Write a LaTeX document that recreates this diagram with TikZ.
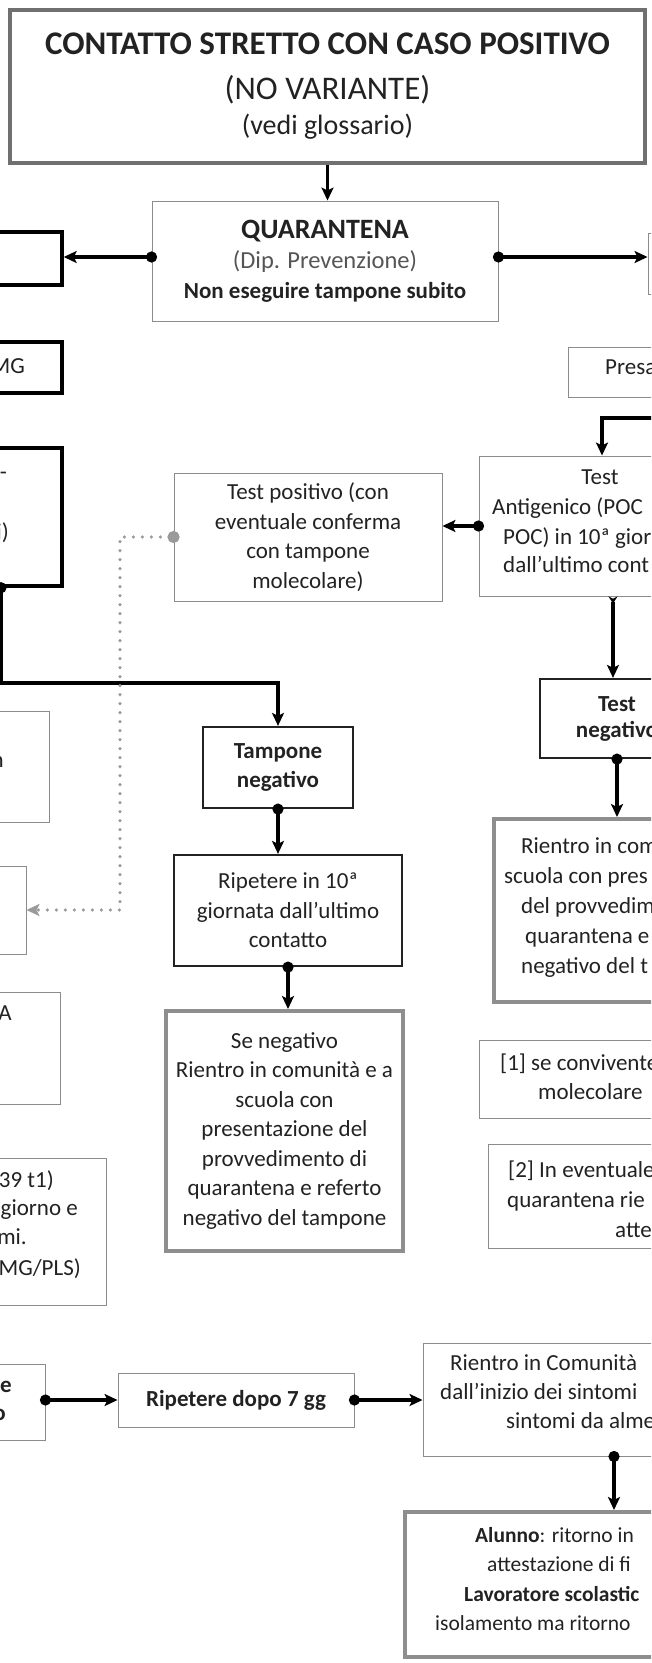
\documentclass[tikz,border=0pt]{standalone}
\usepackage{fontspec}
\setmainfont{Carlito}
\usetikzlibrary{arrows.meta,positioning}

\definecolor{inkc}{HTML}{222222}
\definecolor{softc}{HTML}{555555}
\definecolor{thinc}{HTML}{8C8C8C}
\definecolor{thickc}{HTML}{8E8E8E}
\definecolor{framec}{HTML}{707070}
\definecolor{dotc}{HTML}{9A9A9A}

\begin{document}
\begin{tikzpicture}[x=1pt,y=-1pt,
    every node/.style={text=inkc,font=\fontsize{23}{29.5}\selectfont},
    sz/.style 2 args={minimum width=#1pt,minimum height=#2pt},
    box/.style={draw=thinc,line width=0.9pt,inner sep=0pt,align=center},
    darkbox/.style={box,draw=inkc,line width=2.2pt},
    blackbox/.style={box,draw=black,line width=3.4pt},
    graybox/.style={box,draw=thickc,line width=4pt},
    frag/.style={inner sep=0pt,anchor=mid west},
    fragr/.style={inner sep=0pt,anchor=mid east},
    arrowline/.style={line width=3.2pt,-{Stealth[length=13pt,width=12pt,inset=3pt]}},
    link/.style={arrowline,{Circle[length=11pt]}-{Stealth[length=13pt,width=12pt,inset=3pt]},shorten <=-5.5pt},
    dotarrow/.style={dotc,line width=3.6pt,line cap=round,dash pattern=on 0pt off 9pt,
      {Circle[length=12pt]}-{Stealth[length=13pt,width=12pt,inset=3pt]},shorten <=-6pt}]

\useasboundingbox (0,0) rectangle (651,1663);
\clip (0,0) rectangle (651,1663);

% top
\node[box,draw=framec,line width=4pt,sz={635}{153},font=\fontsize{33}{41}\selectfont] (contatto) at (327.5,86.5)
  {{\bfseries CONTATTO STRETTO CON CASO POSITIVO}\\[4pt]
   (NO VARIANTE)\\[-6pt]
   {\fontsize{28}{41}\selectfont (vedi glossario)}};
\node[box,sz={346}{120},font=\fontsize{23}{30}\selectfont] (quar) at (325,261)
  {{\fontsize{28}{30}\selectfont\bfseries QUARANTENA}\\
   {\fontsize{24.5}{30}\selectfont\color{softc}(Dip. Prevenzione)}\\
   {\bfseries Non eseguire tampone subito}};

% left column (cut by the edge)
\node[blackbox,sz={122}{53}] (lbox) at (1,258.5) {};
\node[blackbox,sz={122}{51}] (mg) at (1,367.5) {};
\node[fragr] (mgtxt) at (25,371) {MG};
\node[blackbox,sz={122}{138}] (lcase) at (1,517) {};
\node[fragr] (lcasea) at (7,477) {-};
\node[fragr] (lcaseb) at (9,537) {i)};
\node[box,sz={109}{111}] (nbox) at (-5.5,766.5) {};
\node[fragr] (ntxt) at (4,765) {n};
\node[box,sz={86}{88}] (tgt) at (-17,910) {};
\node[box,sz={120}{112}] (abox) at (0,1048) {};
\node[fragr] (atxt) at (12,1018) {A};
\node[box,sz={166}{147}] (tbox) at (23,1231.5) {};
\node[fragr] (tboxa) at (54,1185) {39 t1)};
\node[fragr] (tboxb) at (78,1213) {giorno e};
\node[fragr] (tboxc) at (27,1242) {omi.};
\node[fragr] (tboxd) at (81,1273) {MG/PLS)};
\node[box,sz={105}{76}] (neo) at (-7.5,1402) {};
\node[fragr,font=\fontsize{23}{29.5}\selectfont\bfseries] (neoa) at (12,1390) {ne};
\node[fragr,font=\fontsize{23}{29.5}\selectfont\bfseries] (neob) at (6,1418) {o};

% middle column
\node[box,sz={268}{128}] (tpos) at (308,537)
  {Test positivo (con\\eventuale conferma\\con tampone\\molecolare)};
\coordinate (split) at (278,683);
\coordinate (dcorner) at (120,910);
\node[darkbox,sz={150}{81},font=\fontsize{23}{29.5}\selectfont\bfseries] (tneg) at (278,767.5)
  {Tampone\\negativo};
\node[darkbox,sz={228}{111}] (rip10) at (288,910.5)
  {Ripetere in 10ª\\giornata dall’ultimo\\contatto};
\node[graybox,sz={237}{240}] (seneg) at (284.5,1131)
  {Se negativo\\Rientro in comunità e a\\scuola con\\presentazione del\\provvedimento di\\quarantena e referto\\negativo del tampone};
\node[box,sz={236}{54},font=\fontsize{23}{29.5}\selectfont\bfseries] (rip7) at (236,1400)
  {Ripetere dopo 7 gg};

% right column (cut by the edge)
\node[box,sz={112}{61}] (rbox) at (704,263.5) {};
\node[box,sz={192}{50}] (presa) at (664,372) {};
\node[frag] (presatxt) at (605,372) {Presa};
\coordinate (pfrom) at (665,418);
\node[box,sz={268}{140}] (tant) at (613,526) {};
\node[inner sep=0pt,anchor=mid] (tanta) at (600,482) {Test};
\node[frag] (tantb) at (492,512) {Antigenico (POC};
\node[frag] (tantc) at (503,542) {POC) in 10ª gior};
\node[frag] (tantd) at (503,570) {dall’ultimo cont};
\node[darkbox,sz={154}{79},font=\fontsize{23}{26}\selectfont\bfseries] (tnegr) at (617,718.5)
  {Test\\negativo};
\node[graybox,sz={254}{183}] (rcomu) at (621,910.5) {};
\node[frag] (rcomua) at (521,851) {Rientro in com};
\node[frag] (rcomub) at (504,881) {scuola con pres};
\node[frag] (rcomuc) at (521,911) {del provvedim};
\node[frag] (rcomud) at (525,941) {quarantena e};
\node[frag] (rcomue) at (521,971) {negativo del t};
\node[box,sz={281}{78}] (nota) at (619.5,1079) {};
\node[frag] (notaa) at (500,1068) {[1] se convivente};
\node[frag] (notab) at (538,1097) {molecolare};
\node[box,sz={272}{104}] (notb) at (624,1196) {};
\node[frag] (notba) at (508,1175) {[2] In eventuale};
\node[frag] (notbb) at (507,1205) {quarantena rie};
\node[frag] (notbc) at (615,1235) {atte};
\node[box,sz={382}{113}] (rcom) at (614,1399.5) {};
\node[frag] (rcoma) at (450,1368) {Rientro in Comunità};
\node[frag] (rcomb) at (440,1397) {dall’inizio dei sintomi};
\node[frag] (rcomc) at (506,1426) {sintomi da alme};
\node[graybox,sz={418}{145}] (alunno) at (614,1584.5) {};
\node[frag,font=\fontsize{21.5}{25}\selectfont] (alunnoa) at (475,1540) {\textbf{Alunno}: ritorno in};
\node[frag,font=\fontsize{21.5}{25}\selectfont] (alunnob) at (487,1569) {attestazione di fi};
\node[frag,font=\fontsize{21.5}{25}\selectfont] (alunnoc) at (464,1599) {\textbf{Lavoratore scolastic}};
\node[frag,font=\fontsize{21.5}{25}\selectfont] (alunnod) at (435,1628) {isolamento ma ritorno};

% connectors
\draw[arrowline] (contatto.south) -- (contatto.south |- quar.north);
\draw[link] ([yshift=4pt]quar.west) -- ([yshift=4pt]quar.west -| lbox.east);
\draw[link] ([yshift=4pt]quar.east) -- ([yshift=4pt]quar.east -| rbox.west);
\draw[arrowline] (pfrom) -| ([xshift=-11pt]tant.north);
\draw[link] (tant.west) -- (tant.west -| tpos.east);
\draw[arrowline,{Stealth[reversed,length=7pt,width=9pt]}-{Stealth[length=13pt,width=12pt,inset=3pt]}]
  (tant.south) -- (tant.south |- tnegr.north);
\draw[link] (tnegr.south) -- (tnegr.south |- rcomu.north);
\draw[link] (lcase.south) |- (split) -- (tneg.north);
\draw[dotarrow] (tpos.west) -| (dcorner) -- (tgt.east);
\draw[link] (tneg.south) -- (tneg.south |- rip10.north);
\draw[link] (rip10.south) -- (rip10.south |- seneg.north);
\draw[link] (neo.east |- rip7.west) -- (rip7.west);
\draw[link] (rip7.east) -- (rip7.east -| rcom.west);
\draw[link] (rcom.south) -- (alunno.north);
\end{tikzpicture}
\end{document}
